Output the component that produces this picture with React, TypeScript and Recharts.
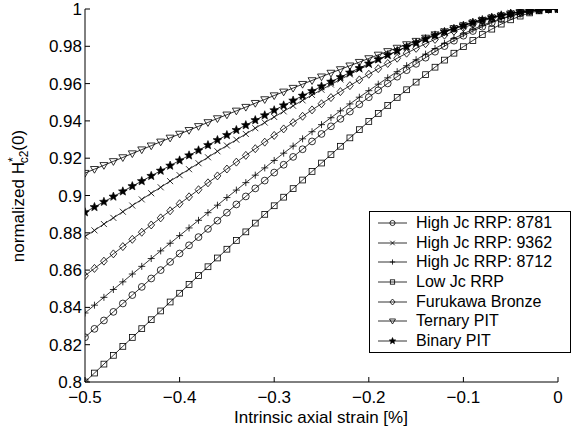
import { LineChart, Line, XAxis, YAxis, Legend } from 'recharts';

// intrinsic axial strain [%], -0.5 .. 0 in 0.01 steps
const strain = [
  -0.5, -0.49, -0.48, -0.47, -0.46, -0.45, -0.44, -0.43, -0.42, -0.41,
  -0.4, -0.39, -0.38, -0.37, -0.36, -0.35, -0.34, -0.33, -0.32, -0.31,
  -0.3, -0.29, -0.28, -0.27, -0.26, -0.25, -0.24, -0.23, -0.22, -0.21,
  -0.2, -0.19, -0.18, -0.17, -0.16, -0.15, -0.14, -0.13, -0.12, -0.11,
  -0.1, -0.09, -0.08, -0.07, -0.06, -0.05, -0.04, -0.03, -0.02, -0.01,
  0,
];

const hj8781 = [
  0.8240, 0.8285, 0.8330, 0.8376, 0.8421, 0.8466, 0.8510, 0.8555, 0.8600, 0.8644,
  0.8689, 0.8733, 0.8777, 0.8821, 0.8865, 0.8908, 0.8952, 0.8995, 0.9038, 0.9080,
  0.9123, 0.9165, 0.9207, 0.9248, 0.9290, 0.9330, 0.9371, 0.9411, 0.9450, 0.9489,
  0.9527, 0.9564, 0.9601, 0.9637, 0.9672, 0.9706, 0.9739, 0.9771, 0.9801, 0.9830,
  0.9857, 0.9882, 0.9905, 0.9927, 0.9945, 0.9962, 0.9975, 0.9986, 0.9994, 0.9998,
  1.0,
];

const hj9362 = [
  0.8780, 0.8813, 0.8847, 0.8880, 0.8913, 0.8946, 0.8979, 0.9012, 0.9044, 0.9077,
  0.9109, 0.9141, 0.9173, 0.9205, 0.9237, 0.9268, 0.9299, 0.9330, 0.9361, 0.9391,
  0.9421, 0.9451, 0.9481, 0.9510, 0.9539, 0.9567, 0.9595, 0.9622, 0.9649, 0.9676,
  0.9701, 0.9727, 0.9751, 0.9775, 0.9798, 0.9820, 0.9841, 0.9861, 0.9880, 0.9898,
  0.9915, 0.9930, 0.9944, 0.9957, 0.9968, 0.9978, 0.9986, 0.9992, 0.9996, 0.9999,
  1.0,
];

const hj8712 = [
  0.8370, 0.8412, 0.8454, 0.8496, 0.8537, 0.8579, 0.8620, 0.8662, 0.8703, 0.8744,
  0.8785, 0.8826, 0.8867, 0.8908, 0.8948, 0.8989, 0.9029, 0.9069, 0.9109, 0.9148,
  0.9188, 0.9227, 0.9265, 0.9304, 0.9342, 0.9380, 0.9417, 0.9454, 0.9491, 0.9527,
  0.9562, 0.9597, 0.9631, 0.9664, 0.9696, 0.9728, 0.9758, 0.9788, 0.9816, 0.9842,
  0.9867, 0.9891, 0.9912, 0.9932, 0.9949, 0.9964, 0.9977, 0.9987, 0.9994, 0.9999,
  1.0,
];

const lowJc = [
  0.8000, 0.8048, 0.8096, 0.8143, 0.8191, 0.8239, 0.8286, 0.8334, 0.8381, 0.8429,
  0.8476, 0.8523, 0.8571, 0.8618, 0.8665, 0.8712, 0.8759, 0.8805, 0.8852, 0.8899,
  0.8945, 0.8991, 0.9037, 0.9083, 0.9129, 0.9174, 0.9219, 0.9264, 0.9309, 0.9353,
  0.9397, 0.9440, 0.9483, 0.9526, 0.9567, 0.9608, 0.9648, 0.9688, 0.9726, 0.9763,
  0.9798, 0.9831, 0.9863, 0.9892, 0.9919, 0.9942, 0.9962, 0.9979, 0.9990, 0.9998,
  1.0,
];

const furukawa = [
  0.8570, 0.8609, 0.8648, 0.8687, 0.8726, 0.8765, 0.8803, 0.8842, 0.8880, 0.8918,
  0.8956, 0.8993, 0.9031, 0.9068, 0.9105, 0.9142, 0.9179, 0.9215, 0.9251, 0.9286,
  0.9322, 0.9357, 0.9391, 0.9425, 0.9459, 0.9492, 0.9525, 0.9557, 0.9589, 0.9620,
  0.9650, 0.9680, 0.9708, 0.9736, 0.9763, 0.9789, 0.9814, 0.9837, 0.9860, 0.9881,
  0.9900, 0.9918, 0.9935, 0.9950, 0.9963, 0.9974, 0.9983, 0.9991, 0.9996, 0.9999,
  1.0,
];

const ternary = [
  0.9120, 0.9141, 0.9162, 0.9183, 0.9204, 0.9225, 0.9246, 0.9267, 0.9288, 0.9309,
  0.9330, 0.9350, 0.9371, 0.9392, 0.9413, 0.9433, 0.9454, 0.9474, 0.9495, 0.9515,
  0.9536, 0.9556, 0.9576, 0.9597, 0.9617, 0.9637, 0.9657, 0.9676, 0.9696, 0.9715,
  0.9735, 0.9754, 0.9773, 0.9791, 0.9810, 0.9828, 0.9845, 0.9863, 0.9879, 0.9896,
  0.9911, 0.9926, 0.9940, 0.9953, 0.9964, 0.9975, 0.9983, 0.9991, 0.9996, 0.9999,
  1.0,
];

const binary = [
  0.8910, 0.8938, 0.8966, 0.8994, 0.9022, 0.9050, 0.9077, 0.9105, 0.9133, 0.9160,
  0.9188, 0.9215, 0.9242, 0.9270, 0.9297, 0.9324, 0.9351, 0.9377, 0.9404, 0.9430,
  0.9457, 0.9483, 0.9509, 0.9535, 0.9560, 0.9585, 0.9610, 0.9635, 0.9659, 0.9683,
  0.9707, 0.9730, 0.9753, 0.9775, 0.9797, 0.9818, 0.9838, 0.9858, 0.9877, 0.9894,
  0.9911, 0.9927, 0.9941, 0.9954, 0.9966, 0.9976, 0.9985, 0.9991, 0.9996, 0.9999,
  1.0,
];

const xTicks = [-0.5, -0.4, -0.3, -0.2, -0.1, 0];
const yTicks = [0.8, 0.82, 0.84, 0.86, 0.88, 0.9, 0.92, 0.94, 0.96, 0.98, 1];

const seriesList = [
  { key: 'hj8781', name: 'High Jc RRP: 8781', shape: 'circle', values: hj8781 },
  { key: 'hj9362', name: 'High Jc RRP: 9362', shape: 'x', values: hj9362 },
  { key: 'hj8712', name: 'High Jc RRP: 8712', shape: 'plus', values: hj8712 },
  { key: 'lowJc', name: 'Low Jc RRP', shape: 'square', values: lowJc },
  { key: 'furukawa', name: 'Furukawa Bronze', shape: 'diamond', values: furukawa },
  { key: 'ternary', name: 'Ternary PIT', shape: 'triangle', values: ternary },
  { key: 'binary', name: 'Binary PIT', shape: 'star', values: binary },
];

const rows = strain.map((s, i) => {
  const row: Record<string, number> = { strain: s };
  seriesList.forEach((ser) => { row[ser.key] = ser.values[i]; });
  return row;
});

const FONT = '"Liberation Sans", Arial, Helvetica, sans-serif';

function starPath(cx: number, cy: number, R: number, r: number) {
  let d = '';
  for (let i = 0; i < 10; i++) {
    const a = -Math.PI / 2 + (i * Math.PI) / 5;
    const rad = i % 2 ? r : R;
    d += (i ? 'L' : 'M') + (cx + rad * Math.cos(a)).toFixed(2) + ',' + (cy + rad * Math.sin(a)).toFixed(2);
  }
  return d + 'Z';
}

function Marker({ shape, cx, cy, k = 1 }: { shape: string; cx: number; cy: number; k?: number }) {
  const common = { fill: 'none', stroke: '#000', strokeWidth: 0.8 };
  switch (shape) {
    case 'circle':
      return <circle cx={cx} cy={cy} r={3.4 * k} {...common} />;
    case 'x':
      return <path d={`M${cx - 3 * k},${cy - 3 * k}L${cx + 3 * k},${cy + 3 * k}M${cx - 3 * k},${cy + 3 * k}L${cx + 3 * k},${cy - 3 * k}`} {...common} />;
    case 'plus':
      return <path d={`M${cx - 3.5 * k},${cy}L${cx + 3.5 * k},${cy}M${cx},${cy - 3.5 * k}L${cx},${cy + 3.5 * k}`} {...common} />;
    case 'square':
      return <rect x={cx - 2.9 * k} y={cy - 2.9 * k} width={5.8 * k} height={5.8 * k} {...common} />;
    case 'diamond':
      return <path d={`M${cx},${cy - 4 * k}L${cx + 3.4 * k},${cy}L${cx},${cy + 4 * k}L${cx - 3.4 * k},${cy}Z`} {...common} />;
    case 'triangle':
      return <path d={`M${cx - 4 * k},${cy - 2.7 * k}L${cx + 4 * k},${cy - 2.7 * k}L${cx},${cy + 4 * k}Z`} {...common} />;
    case 'star':
      return <path d={starPath(cx, cy, 4.6 * k, 2 * k)} fill="#000" stroke="#000" strokeWidth={0.6} />;
    default:
      return null;
  }
}

const fmtX = (v: number) => (v === 0 ? '0' : '\u2212' + Math.abs(v).toFixed(1));

function XTick(props: any) {
  const { x, y, payload } = props;
  return (
    <g>
      <line x1={x} x2={x} y1={y} y2={y - 5} stroke="#000" strokeWidth={1} />
      <text x={x} y={y + 21} textAnchor="middle" fontSize={17} fontFamily={FONT} fill="#000">
        {fmtX(payload.value)}
      </text>
    </g>
  );
}

function YTick(props: any) {
  const { x, y, payload } = props;
  return (
    <g>
      <line x1={x} x2={x + 5} y1={y} y2={y} stroke="#000" strokeWidth={1} />
      <text x={x - 3} y={y + 6} textAnchor="end" fontSize={17} fontFamily={FONT} fill="#000">
        {String(payload.value)}
      </text>
    </g>
  );
}

function YLabel() {
  return (
    <text transform="translate(24,196) rotate(-90)" textAnchor="middle" fontSize={17} fontFamily={FONT} fill="#000">
      <tspan>normalized H</tspan>
      <tspan dy={-7} fontSize={12}>*</tspan>
      <tspan dx={-6} dy={11} fontSize={12}>c2</tspan>
      <tspan dy={-4}>(0)</tspan>
    </text>
  );
}

function XLabel() {
  return (
    <text x={321} y={423} textAnchor="middle" fontSize={17} fontFamily={FONT} fill="#000">
      Intrinsic axial strain [%]
    </text>
  );
}

function LegendBox() {
  return (
    <div style={{ border: '1px solid #000', background: '#fff', width: 200, padding: '1px 0', fontFamily: FONT, fontSize: 16 }}>
      {seriesList.map((s) => (
        <div key={s.key} style={{ display: 'flex', alignItems: 'center', height: 19.7 }}>
          <svg width={46} height={20} style={{ flex: 'none' }}>
            <line x1={8} x2={37} y1={10} y2={10} stroke="#000" strokeWidth={0.8} />
            <Marker shape={s.shape} cx={22.5} cy={10} k={0.75} />
          </svg>
          <span style={{ color: '#000', whiteSpace: 'nowrap' }}>{s.name}</span>
        </div>
      ))}
    </div>
  );
}

export default function App() {
  return (
    <div style={{ position: 'absolute', left: 0, top: 0, width: 575, height: 430, background: '#fff' }}>
      <LineChart width={575} height={430} data={rows} margin={{ top: 9, right: 17, bottom: 0, left: 0 }}>
        <XAxis
          dataKey="strain"
          type="number"
          domain={[-0.5, 0]}
          ticks={xTicks}
          allowDataOverflow
          height={48}
          tickSize={0}
          tickMargin={0}
          tickLine={false}
          axisLine={{ stroke: '#000', strokeWidth: 1 }}
          tick={<XTick />}
          label={{ content: () => <XLabel /> }}
        />
        <YAxis
          type="number"
          domain={[0.8, 1]}
          ticks={yTicks}
          allowDataOverflow
          width={85}
          tickSize={0}
          tickMargin={0}
          tickLine={false}
          axisLine={{ stroke: '#000', strokeWidth: 1 }}
          tick={<YTick />}
          label={{ content: () => <YLabel /> }}
        />
        <Legend
          layout="vertical"
          align="center"
          verticalAlign="middle"
          wrapperStyle={{ position: 'absolute', left: 369, top: 211, width: 202, margin: 0 }}
          content={() => <LegendBox />}
        />
        {seriesList.map((s) => (
          <Line
            key={s.key}
            dataKey={s.key}
            name={s.name}
            type="linear"
            stroke="#000"
            strokeWidth={0.8}
            isAnimationActive={false}
            activeDot={false}
            dot={(p: any) => <Marker key={`${s.key}-${p.index}`} shape={s.shape} cx={p.cx} cy={p.cy} />}
          />
        ))}
      </LineChart>
    </div>
  );
}
